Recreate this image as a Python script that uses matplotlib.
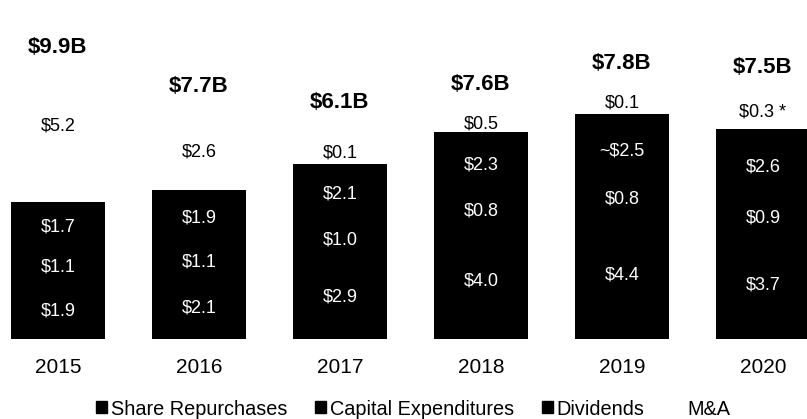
import matplotlib.pyplot as plt
from matplotlib.patches import Patch

plt.rcParams["font.family"] = ["Liberation Sans", "DejaVu Sans"]

years = ["2015", "2016", "2017", "2018", "2019", "2020"]
share_repurchases = [1.9, 2.1, 2.9, 4.0, 4.4, 3.7]
capex = [1.1, 1.1, 1.0, 0.8, 0.8, 0.9]
dividends = [1.7, 1.9, 2.1, 2.3, 2.5, 2.6]
m_and_a = [5.2, 2.6, 0.1, 0.5, 0.1, 0.3]
totals = ["$9.9B", "$7.7B", "$6.1B", "$7.6B", "$7.8B", "$7.5B"]
div_labels = ["$1.7", "$1.9", "$2.1", "$2.3", "~$2.5", "$2.6"]
ma_labels = ["$5.2", "$2.6", "$0.1", "$0.5", "$0.1", "$0.3 *"]

# layout only: how far above the stack each total sits
total_pad = [0.07, 0.96, 2.0, 1.1, 1.65, 1.8]

fig = plt.figure(figsize=(8.07, 4.19), dpi=100)
ax = fig.add_axes([0, 80 / 419, 1, 1 - 80 / 419])

x = list(range(len(years)))
w = 0.667
b1 = share_repurchases
b2 = [a + b for a, b in zip(b1, capex)]
b3 = [a + b for a, b in zip(b2, dividends)]

ax.bar(x, share_repurchases, w, color="black")
ax.bar(x, capex, w, bottom=b1, color="black")
ax.bar(x, dividends, w, bottom=b2, color="black")
ax.bar(x, m_and_a, w, bottom=b3, color="white")

lbl = dict(ha="center", va="center", fontsize=13)
for i in x:
    ax.text(i, share_repurchases[i] / 2, f"${share_repurchases[i]:.1f}", color="white", **lbl)
    ax.text(i, b1[i] + capex[i] / 2, f"${capex[i]:.1f}", color="white", **lbl)
    ax.text(i, b2[i] + dividends[i] / 2, div_labels[i], color="white", **lbl)
    top = b3[i] + m_and_a[i]
    if m_and_a[i] < 0.4:
        ax.text(i, top - 0.02, ma_labels[i], color="black", ha="center", va="bottom", fontsize=13)
    else:
        ax.text(i, b3[i] + m_and_a[i] / 2, ma_labels[i], color="black", **lbl)
    ax.text(i, top + total_pad[i], totals[i], ha="center", va="center",
            fontsize=16, fontweight="bold")

ax.set_xlim(-0.411, 5.312)
ax.set_ylim(0, 11.61)
ax.set_xticks(x)
ax.set_xticklabels(years, fontsize=15)
ax.tick_params(axis="x", length=0, pad=14)
ax.set_yticks([])
for s in ax.spines.values():
    s.set_visible(False)

handles = [Patch(color="black"), Patch(color="black"), Patch(color="black"), Patch(color="white")]
fig.legend(handles, ["Share Repurchases", "Capital Expenditures", "Dividends", "M&A"],
           loc="center", bbox_to_anchor=(0.512, 10 / 419), ncol=4, frameon=False,
           fontsize=14.3, handlelength=0.55, handleheight=0.55, handletextpad=0.2,
           columnspacing=1.4)

fig.savefig("out.png", dpi=100)
